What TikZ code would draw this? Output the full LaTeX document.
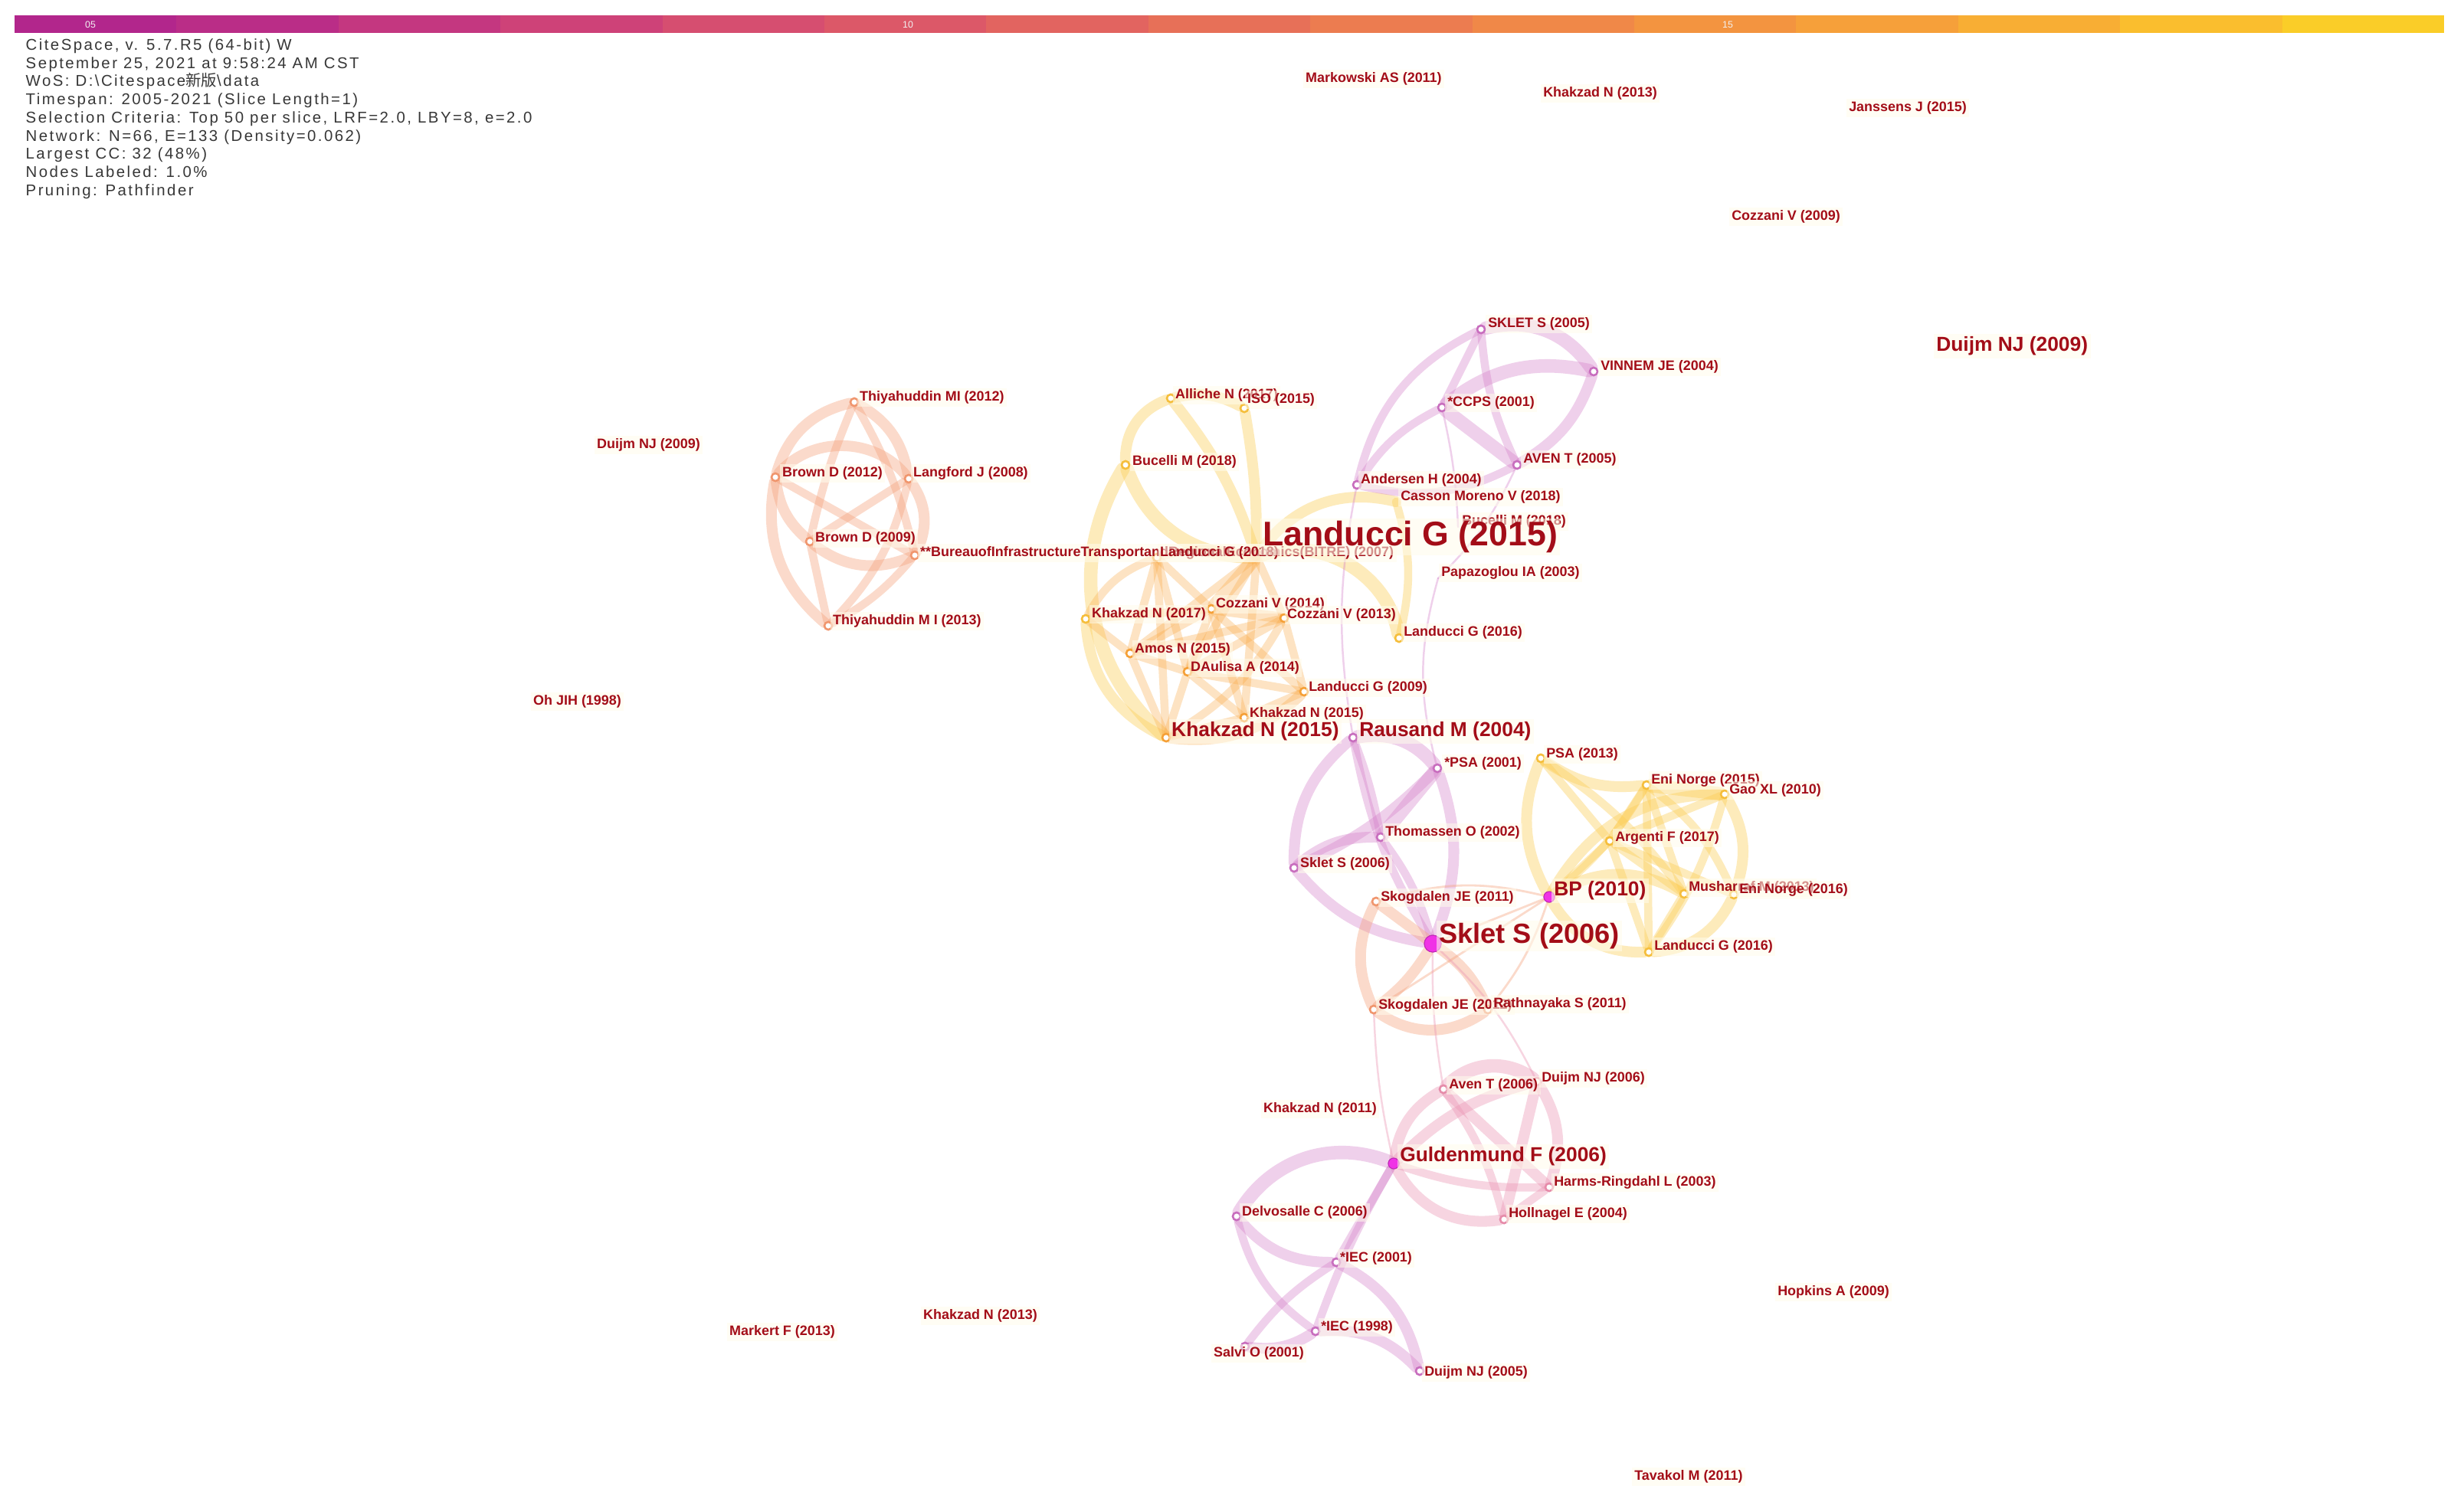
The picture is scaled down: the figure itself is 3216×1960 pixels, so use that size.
\documentclass[tikz,border=0pt]{standalone}
\usepackage{fontspec}
\newfontfamily\infofont[LetterSpace=12]{Liberation Sans}
\newfontfamily\labfont{Liberation Sans}
\newfontfamily\cjkfont{Noto Sans CJK SC}
\definecolor{labc}{RGB}{163,13,24}
\definecolor{infoc}{RGB}{55,55,55}
\definecolor{halo}{RGB}{255,252,236}
\definecolor{salC}{RGB}{245,160,120}
\definecolor{yelC}{RGB}{252,205,85}
\definecolor{orC}{RGB}{250,170,70}
\definecolor{pinC}{RGB}{212,125,200}
\definecolor{rosC}{RGB}{235,150,180}
\definecolor{salR}{RGB}{240,150,110}
\definecolor{yelR}{RGB}{245,190,60}
\definecolor{orR}{RGB}{245,160,55}
\definecolor{pinR}{RGB}{200,110,190}
\definecolor{rosR}{RGB}{230,140,170}
\definecolor{magC}{RGB}{240,50,230}
\tikzset{
  lab/.style={anchor=west,inner sep=1pt,text=labc,fill=halo,fill opacity=0.55,text opacity=1,
    font=\labfont\bfseries\fontsize{5.1}{6}\selectfont},
  labm/.style={lab,font=\labfont\bfseries\fontsize{7.5}{8}\selectfont},
  labl/.style={lab,font=\labfont\bfseries\fontsize{10.3}{11}\selectfont},
  labxl/.style={lab,font=\labfont\bfseries\fontsize{12.7}{13}\selectfont},
  nring/.style={circle,inner sep=0pt,minimum size=0.1cm,fill=white,line width=0.7pt},
  magn/.style={circle,inner sep=0pt,fill=magC,draw=magC!80!black,line width=0.3pt},
  salE/.style={draw=salC,draw opacity=0.38,line cap=round},
  yelE/.style={draw=yelC,draw opacity=0.40,line cap=round},
  orE/.style={draw=orC,draw opacity=0.32,line cap=round},
  pinE/.style={draw=pinC,draw opacity=0.36,line cap=round},
  rosE/.style={draw=rosC,draw opacity=0.40,line cap=round},
}
\begin{document}
\begin{tikzpicture}[x=0.01cm,y=-0.01cm]
\useasboundingbox[fill=white] (0,0) rectangle (3216,1960);
% colour bar
\foreach \i/\r/\g/\b in {0/178/38/140,1/186/45/135,2/196/55/128,3/206/66/120,4/214/78/112,
  5/220/88/104,6/226/100/96,7/231/112/88,8/236/124/80,9/240/136/72,10/243/148/64,
  11/246/160/58,12/248/174/52,13/250/190/46,14/250/205/40}{
  \definecolor{barc}{RGB}{\r,\g,\b}
  \fill[barc] ({19+\i*211.4},20) rectangle ({19+(\i+1)*211.4},43);
}
\node[text=white!90!gray,font=\labfont\fontsize{3.5}{4}\selectfont,inner sep=0] (t05) at (118,32) {05};
\node[text=white!90!gray,font=\labfont\fontsize{3.5}{4}\selectfont,inner sep=0] (t10) at (1185,32) {10};
\node[text=white!90!gray,font=\labfont\fontsize{3.5}{4}\selectfont,inner sep=0] (t15) at (2255,32) {15};
% info
\node[anchor=north west,inner sep=0,align=left,text=infoc,font=\infofont\fontsize{5.8}{6.75}\selectfont] (info) at (33,50)
{CiteSpace, v. 5.7.R5 (64-bit) W\\
September 25, 2021 at 9:58:24 AM CST\\
WoS: D:\textbackslash Citespace{\cjkfont 新版}\textbackslash data\\
Timespan: 2005-2021 (Slice Length=1)\\
Selection Criteria: Top 50 per slice, LRF=2.0, LBY=8, e=2.0\\
Network: N=66, E=133 (Density=0.062)\\
Largest CC: 32 (48\%)\\
Nodes Labeled: 1.0\%\\
Pruning: Pathfinder};
% ---------------- nodes (circles) ----------------
% cluster A
\node[nring,draw=salR] (T12) at (1115,525) {};
\node[nring,draw=salR] (BD12) at (1012,623) {};
\node[nring,draw=salR] (LJ08) at (1186,625) {};
\node[nring,draw=salR] (BD09) at (1057,707) {};
\node[nring,draw=salR] (T13) at (1081,817) {};
\node[nring,draw=salR] (BIT) at (1194,725) {};
% cluster B
\node[nring,draw=yelR] (AL17) at (1528,520) {};
\node[nring,draw=yelR] (ISO15) at (1624,533) {};
\node[nring,draw=yelR] (BM18a) at (1469,607) {};
\coordinate (CM18) at (1822,655);
\node[nring,draw=yelR] (LG16a) at (1826,833) {};
\node[nring,draw=yelR,minimum size=0.08cm] (LG15) at (1640,727) {};
\node[nring,draw=orR] (LG18) at (1510,728) {};
\node[nring,draw=yelR] (KN17) at (1417,808) {};
\node[nring,draw=orR] (CV14) at (1581,795) {};
\node[nring,draw=orR] (CV13) at (1676,807) {};
\node[nring,draw=orR] (AN15) at (1475,853) {};
\node[nring,draw=orR] (DA14) at (1550,877) {};
\node[nring,draw=orR] (LG09) at (1702,903) {};
\node[nring,draw=orR] (KN15s) at (1624,937) {};
\node[nring,draw=orR] (KN15b) at (1522,963) {};
% cluster G
\node[nring,draw=pinR] (SK05) at (1933,430) {};
\node[nring,draw=pinR] (VIN) at (2080,485) {};
\node[nring,draw=pinR] (CCPS) at (1882,532) {};
\node[nring,draw=pinR] (AV05) at (1980,607) {};
\node[nring,draw=pinR] (AND) at (1771,633) {};
\coordinate (PAP) at (1877,755);
\coordinate (BM18b) at (1903,688);
% cluster C / E
\node[nring,draw=pinR] (RM04) at (1766,963) {};
\node[nring,draw=pinR] (PSA01) at (1876,1003) {};
\node[nring,draw=pinR] (TH02) at (1802,1093) {};
\node[nring,draw=pinR] (SS06s) at (1689,1133) {};
\node[nring,draw=salR] (SJ11) at (1796,1177) {};
\node[nring,draw=salR] (SJ12) at (1793,1318) {};
\node[nring,draw=salR] (RS11) at (1942,1318) {};
\node[magn,minimum size=0.22cm] (SSb) at (1870,1232) {};
% cluster D
\node[nring,draw=yelR] (PSA13) at (2011,990) {};
\node[nring,draw=yelR] (EN15) at (2149,1025) {};
\node[nring,draw=yelR] (GAO) at (2251,1037) {};
\node[nring,draw=yelR] (ARG) at (2101,1098) {};
\node[nring,draw=yelR] (MUS) at (2198,1167) {};
\node[nring,draw=yelR] (EN16) at (2263,1168) {};
\node[nring,draw=yelR] (LG16b) at (2152,1243) {};
\node[magn,minimum size=0.14cm] (BP) at (2022,1171) {};
% cluster F
\node[magn,minimum size=0.14cm] (GF06) at (1819,1519) {};
\node[nring,draw=rosR] (AT06) at (1884,1422) {};
\node[nring,draw=rosR] (DN06) at (2006,1412) {};
\node[nring,draw=rosR] (HR03) at (2022,1550) {};
\node[nring,draw=rosR] (HE04) at (1963,1592) {};
\node[nring,draw=pinR] (DC06) at (1614,1588) {};
\node[nring,draw=pinR] (IEC01) at (1744,1648) {};
\node[nring,draw=pinR] (IEC98) at (1717,1738) {};
\node[nring,draw=pinR] (SO01) at (1625,1758) {};
\node[nring,draw=pinR] (DN05) at (1853,1790) {};
% ---------------- edges ----------------
% cluster A
\draw[salE,line width=4pt] (T12) to[bend right=30] (BD12);
\draw[salE,line width=4pt] (T12) to[bend left=25] (LJ08);
\draw[salE,line width=3pt] (T12) to[bend right=5] (BD09);
\draw[salE,line width=3pt] (T12) to[bend left=8] (BIT);
\draw[salE,line width=4pt] (BD12) to[bend left=50] (LJ08);
\draw[salE,line width=4pt] (LJ08) to[bend left=30] (BIT);
\draw[salE,line width=4pt] (BIT) to[bend left=30] (BD09);
\draw[salE,line width=4pt] (BD09) to[bend left=20] (BD12);
\draw[salE,line width=4pt] (BD12) to[bend right=30] (T13);
\draw[salE,line width=3pt] (BD12) to (BIT);
\draw[salE,line width=3pt] (LJ08) to (BD09);
\draw[salE,line width=3pt] (LJ08) to[bend left=15] (T13);
\draw[salE,line width=3pt] (BD09) to (T13);
\draw[salE,line width=3pt] (BIT) to[bend left=10] (T13);
% cluster B yellow
\draw[yelE,line width=4pt] (AL17) to[bend left=20] (ISO15);
\draw[yelE,line width=4pt] (AL17) to[bend right=35] (BM18a);
\draw[yelE,line width=4pt] (AL17) to[bend left=10] (LG15);
\draw[yelE,line width=4pt] (ISO15) to[bend left=5] (LG15);
\draw[yelE,line width=5pt] (BM18a) to[bend right=35] (LG15);
\draw[yelE,line width=5pt] (BM18a) to[bend right=40] (KN15b);
\draw[yelE,line width=5pt] (LG15) to[bend left=50] (LG16a);
\draw[yelE,line width=4pt] (LG15) to[bend left=35] (CM18);
\draw[yelE,line width=3pt] (CM18) to[bend left=15] (LG16a);
\draw[yelE,line width=4pt] (KN17) to[bend right=30] (KN15b);
% cluster B orange clique
\draw[orE,line width=5pt] (LG15) to (CV14);
\draw[orE,line width=3pt] (LG15) to (CV13);
\draw[orE,line width=3pt] (LG15) to[bend right=15] (LG18);
\draw[orE,line width=3pt] (LG15) to (AN15);
\draw[orE,line width=3pt] (LG15) to (DA14);
\draw[orE,line width=3pt] (LG15) to (KN15s);
\draw[orE,line width=3pt] (LG18) to (CV14);
\draw[orE,line width=3pt] (LG18) to (AN15);
\draw[orE,line width=3pt] (LG18) to (DA14);
\draw[orE,line width=3pt] (LG18) to (KN15b);
\draw[orE,line width=3pt] (LG18) to[bend right=20] (KN17);
\draw[orE,line width=4pt] (CV14) to (CV13);
\draw[orE,line width=3pt] (CV14) to (AN15);
\draw[orE,line width=3pt] (CV14) to (DA14);
\draw[orE,line width=3pt] (CV14) to (LG09);
\draw[orE,line width=3pt] (CV14) to (KN15s);
\draw[orE,line width=3pt] (CV13) to (DA14);
\draw[orE,line width=3pt] (CV13) to (LG09);
\draw[orE,line width=3pt] (CV13) to (AN15);
\draw[orE,line width=3pt] (AN15) to (DA14);
\draw[orE,line width=3pt] (AN15) to (KN15b);
\draw[orE,line width=3pt] (AN15) to (KN17);
\draw[orE,line width=3pt] (DA14) to (LG09);
\draw[orE,line width=3pt] (DA14) to (KN15b);
\draw[orE,line width=3pt] (DA14) to (KN15s);
\draw[orE,line width=3pt] (LG09) to (KN15s);
\draw[orE,line width=3pt] (KN15s) to (KN15b);
\draw[orE,line width=3pt] (KN17) to (CV14);
\draw[orE,line width=3pt] (CV13) to[bend left=15] (KN15b);
\draw[orE,line width=4pt] (LG09) to[bend left=25] (KN15b);
% cluster G
\draw[pinE,line width=5pt] (SK05) to[bend left=35] (VIN);
\draw[pinE,line width=3pt] (SK05) to (CCPS);
\draw[pinE,line width=3pt] (SK05) to[bend right=25] (AND);
\draw[pinE,line width=3pt] (SK05) to[bend right=10] (AV05);
\draw[pinE,line width=5pt] (CCPS) to[bend left=25] (VIN);
\draw[pinE,line width=5pt] (CCPS) to (AV05);
\draw[pinE,line width=4pt] (VIN) to[bend left=20] (AV05);
\draw[pinE,line width=3pt] (AND) to[bend left=15] (CCPS);
\draw[pinE,line width=3pt] (AND) to[bend right=20] (AV05);
\draw[pinE,line width=0.7pt] (AND) to[bend right=10] (RM04);
\draw[pinE,line width=0.7pt] (AV05) to[bend left=10] (PAP);
\draw[pinE,line width=0.7pt] (PAP) to[bend right=15] (PSA01);
\draw[pinE,line width=0.7pt] (CCPS) to[bend left=5] (BM18b);
% cluster C
\draw[pinE,line width=5pt] (RM04) to[bend left=30] (PSA01);
\draw[pinE,line width=4pt] (RM04) to[bend right=25] (SS06s);
\draw[pinE,line width=3pt] (RM04) to[bend left=5] (TH02);
\draw[pinE,line width=3pt] (RM04) to[bend right=10] (SSb);
\draw[pinE,line width=5pt] (PSA01) to (TH02);
\draw[pinE,line width=4pt] (PSA01) to[bend left=10] (SS06s);
\draw[pinE,line width=4pt] (PSA01) to[bend left=20] (SSb);
\draw[pinE,line width=4pt] (TH02) to[bend right=20] (SS06s);
\draw[pinE,line width=3pt] (TH02) to[bend left=10] (SSb);
\draw[pinE,line width=4pt] (SS06s) to[bend right=20] (SSb);
% cluster E
\draw[salE,line width=4pt] (SJ11) to (SSb);
\draw[salE,line width=4pt] (SJ11) to[bend right=25] (SJ12);
\draw[salE,line width=4pt] (SSb) to[bend left=10] (SJ12);
\draw[salE,line width=4pt] (SSb) to[bend left=15] (RS11);
\draw[salE,line width=4pt] (SJ12) to[bend right=35] (RS11);
\draw[salE,line width=0.8pt] (BP) to (SSb);
\draw[salE,line width=0.8pt] (BP) to[bend right=15] (SJ11);
\draw[salE,line width=0.8pt] (BP) to (SJ12);
\draw[salE,line width=0.8pt] (BP) to[bend left=10] (RS11);
\draw[rosE,line width=0.7pt] (SJ12) to[bend right=5] (GF06);
\draw[rosE,line width=0.7pt] (SSb) to[bend right=5] (AT06);
\draw[rosE,line width=0.7pt] (SSb) to[bend left=10] (DN06);
% cluster D
\draw[yelE,line width=4pt] (PSA13) to[bend right=25] (BP);
\draw[yelE,line width=4pt] (PSA13) to[bend right=20] (EN15);
\draw[yelE,line width=3pt] (PSA13) to (ARG);
\draw[yelE,line width=3pt] (PSA13) to[bend left=10] (MUS);
\draw[yelE,line width=5pt] (EN15) to (GAO);
\draw[yelE,line width=3pt] (EN15) to[bend left=10] (BP);
\draw[yelE,line width=3pt] (EN15) to (ARG);
\draw[yelE,line width=3pt] (EN15) to (MUS);
\draw[yelE,line width=3pt] (EN15) to[bend left=15] (EN16);
\draw[yelE,line width=3pt] (EN15) to (LG16b);
\draw[yelE,line width=4pt] (GAO) to[bend right=30] (BP);
\draw[yelE,line width=3pt] (GAO) to (ARG);
\draw[yelE,line width=4pt] (GAO) to[bend left=25] (EN16);
\draw[yelE,line width=3pt] (GAO) to[bend left=10] (LG16b);
\draw[yelE,line width=3pt] (ARG) to (MUS);
\draw[yelE,line width=3pt] (ARG) to (EN16);
\draw[yelE,line width=3pt] (ARG) to (LG16b);
\draw[yelE,line width=4pt] (BP) to[bend left=30] (MUS);
\draw[yelE,line width=4pt] (BP) to[bend right=30] (LG16b);
\draw[yelE,line width=3pt] (MUS) to (LG16b);
\draw[yelE,line width=4pt] (EN16) to[bend left=30] (LG16b);
\draw[yelE,line width=3pt] (BP) to (ARG);
% cluster F
\draw[rosE,line width=4pt] (GF06) to[bend left=25] (AT06);
\draw[rosE,line width=4pt] (GF06) to[bend left=15] (DN06);
\draw[rosE,line width=5pt] (AT06) to[bend left=40] (DN06);
\draw[rosE,line width=4pt] (AT06) to (HR03);
\draw[rosE,line width=3pt] (AT06) to[bend left=10] (HE04);
\draw[rosE,line width=4pt] (DN06) to (HE04);
\draw[rosE,line width=4pt] (DN06) to[bend left=25] (HR03);
\draw[rosE,line width=4pt] (GF06) to[bend right=35] (HE04);
\draw[rosE,line width=3pt] (GF06) to[bend right=10] (HR03);
\draw[rosE,line width=3pt] (HR03) to (HE04);
\draw[pinE,line width=5pt] (GF06) to[bend right=40] (DC06);
\draw[pinE,line width=3pt] (GF06) to (IEC01);
\draw[pinE,line width=3pt] (GF06) to[bend right=5] (IEC98);
\draw[pinE,line width=4pt] (DC06) to[bend right=25] (IEC01);
\draw[pinE,line width=3pt] (DC06) to[bend right=20] (IEC98);
\draw[pinE,line width=4pt] (IEC01) to[bend left=25] (DN05);
\draw[pinE,line width=4pt] (IEC98) to[bend left=25] (DN05);
\draw[pinE,line width=4pt] (IEC98) to[bend left=20] (SO01);
\draw[pinE,line width=3pt] (IEC01) to[bend right=10] (SO01);
% redraw circles on top of edges
\foreach \n in {T12,BD12,LJ08,BD09,T13,BIT}{\node[nring,draw=salR] at (\n) {};}
\foreach \n in {AL17,ISO15,BM18a,LG16a,KN17,PSA13,EN15,GAO,ARG,MUS,EN16,LG16b}{\node[nring,draw=yelR] at (\n) {};}
\foreach \n in {LG18,CV14,CV13,AN15,DA14,LG09,KN15s,KN15b}{\node[nring,draw=orR] at (\n) {};}
\foreach \n in {SK05,VIN,CCPS,AV05,AND,RM04,PSA01,TH02,SS06s,DC06,IEC01,IEC98,SO01,DN05}{\node[nring,draw=pinR] at (\n) {};}
\foreach \n in {SJ11,SJ12,RS11}{\node[nring,draw=salR] at (\n) {};}
\foreach \n in {AT06,DN06,HR03,HE04}{\node[nring,draw=rosR] at (\n) {};}
\node[magn,minimum size=0.22cm] at (SSb) {};
\node[magn,minimum size=0.14cm] at (BP) {};
\node[magn,minimum size=0.14cm] at (GF06) {};
% ---------------- labels ----------------
\node[lab] (lMA11) at (1700,103) {Markowski AS (2011)};
\node[lab] (lKN13t) at (2010,122) {Khakzad N (2013)};
\node[lab] (lJJ15) at (2409,141) {Janssens J (2015)};
\node[lab] (lCV09) at (2256,283) {Cozzani V (2009)};
\node[lab] (lSK05) at (1938,423) {SKLET S (2005)};
\node[lab] (lVIN) at (2085,479) {VINNEM JE (2004)};
\node[labm] (lDN09r) at (2523,452) {Duijm NJ (2009)};
\node[lab] (lT12) at (1118,519) {Thiyahuddin MI (2012)};
\node[lab] (lAL17) at (1530,516) {Alliche N (2017)};
\node[lab] (lISO15) at (1624,522) {ISO (2015)};
\node[lab] (lCCPS) at (1885,526) {*CCPS (2001)};
\node[lab] (lDN09l) at (775,581) {Duijm NJ (2009)};
\node[lab] (lBM18a) at (1474,603) {Bucelli M (2018)};
\node[lab] (lAV05) at (1984,600) {AVEN T (2005)};
\node[lab] (lBD12) at (1017,618) {Brown D (2012)};
\node[lab] (lLJ08) at (1188,618) {Langford J (2008)};
\node[lab] (lAND) at (1772,627) {Andersen H (2004)};
\node[lab] (lCM18) at (1824,649) {Casson Moreno V (2018)};
\node[lab] (lBM18b) at (1904,681) {Bucelli M (2018)};
\node[lab] (lBD09) at (1060,703) {Brown D (2009)};
\node[lab] (lBIT) at (1197,722) {**BureauofInfrastructureTransportandRegionalEconomics(BITRE) (2007)};
\node[lab] (lLG18) at (1510,722) {Landucci G (2018)};
\node[labxl] (lLG15) at (1644,701) {Landucci G (2015)};
\node[lab] (lPAP) at (1877,748) {Papazoglou IA (2003)};
\node[lab] (lCV14) at (1583,789) {Cozzani V (2014)};
\node[lab] (lKN17) at (1421,802) {Khakzad N (2017)};
\node[lab] (lCV13) at (1676,803) {Cozzani V (2013)};
\node[lab] (lT13) at (1083,811) {Thiyahuddin M I (2013)};
\node[lab] (lLG16a) at (1828,826) {Landucci G (2016)};
\node[lab] (lAN15) at (1477,848) {Amos N (2015)};
\node[lab] (lDA14) at (1550,872) {DAulisa A (2014)};
\node[lab] (lLG09) at (1704,898) {Landucci G (2009)};
\node[lab] (lOH98) at (692,916) {Oh JIH (1998)};
\node[lab] (lKN15s) at (1627,932) {Khakzad N (2015)};
\node[labm] (lKN15b) at (1525,955) {Khakzad N (2015)};
\node[labm] (lRM04) at (1770,955) {Rausand M (2004)};
\node[lab] (lPSA13) at (2014,985) {PSA (2013)};
\node[lab] (lPSA01) at (1881,997) {*PSA (2001)};
\node[lab] (lEN15) at (2151,1019) {Eni Norge (2015)};
\node[lab] (lGAO) at (2253,1032) {Gao XL (2010)};
\node[lab] (lTH02) at (1804,1087) {Thomassen O (2002)};
\node[lab] (lARG) at (2104,1094) {Argenti F (2017)};
\node[lab] (lSS06s) at (1693,1128) {Sklet S (2006)};
\node[lab] (lMUS) at (2200,1159) {Musharraf M (2013)};
\node[lab] (lEN16) at (2266,1162) {Eni Norge (2016)};
\node[labm] (lBP) at (2024,1163) {BP (2010)};
\node[lab] (lSJ11) at (1798,1172) {Skogdalen JE (2011)};
\node[labl] (lSSb) at (1874,1222) {Sklet S (2006)};
\node[lab] (lLG16b) at (2155,1236) {Landucci G (2016)};
\node[lab] (lSJ12) at (1795,1313) {Skogdalen JE (2012)};
\node[lab] (lRS11) at (1945,1311) {Rathnayaka S (2011)};
\node[lab] (lDN06) at (2008,1408) {Duijm NJ (2006)};
\node[lab] (lAT06) at (1887,1417) {Aven T (2006)};
\node[lab] (lKN11) at (1645,1448) {Khakzad N (2011)};
\node[labm] (lGF06) at (1823,1510) {Guldenmund F (2006)};
\node[lab] (lHR03) at (2024,1544) {Harms-Ringdahl L (2003)};
\node[lab] (lDC06) at (1617,1583) {Delvosalle C (2006)};
\node[lab] (lHE04) at (1965,1585) {Hollnagel E (2004)};
\node[lab] (lIEC01) at (1745,1643) {*IEC (2001)};
\node[lab] (lHA09) at (2316,1687) {Hopkins A (2009)};
\node[lab] (lKN13b) at (1201,1718) {Khakzad N (2013)};
\node[lab] (lIEC98) at (1720,1733) {*IEC (1998)};
\node[lab] (lMF13) at (948,1739) {Markert F (2013)};
\node[lab] (lSO01) at (1580,1767) {Salvi O (2001)};
\node[lab] (lDN05) at (1855,1792) {Duijm NJ (2005)};
\node[lab] (lTM11) at (2129,1928) {Tavakol M (2011)};
\end{tikzpicture}
\end{document}
